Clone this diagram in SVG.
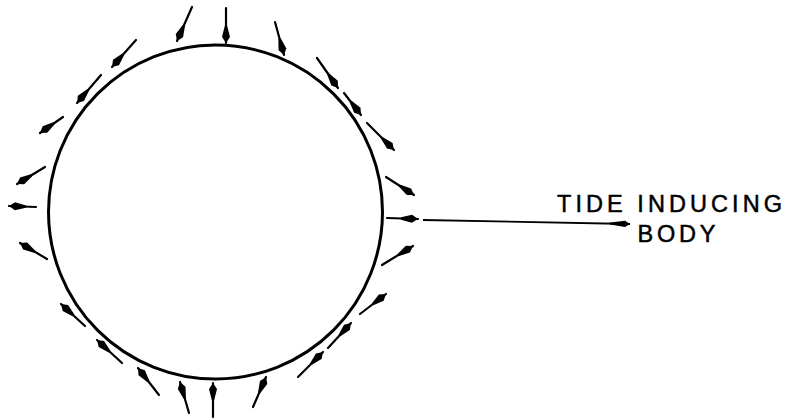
<svg xmlns="http://www.w3.org/2000/svg" width="788" height="420" viewBox="0 0 788 420">
  <style>
    .earth { fill: none; stroke: #000; stroke-width: 3; }
    .f { stroke: #000; stroke-width: 2.2; stroke-linecap: round; fill: none; marker-end: url(#ah); }
    .long { stroke: #000; stroke-width: 1.8; fill: none; marker-end: url(#ahl); }
    .lbl { font-family: "Liberation Sans", Arial, sans-serif; font-size: 23.5px; fill: #000; stroke: #000; stroke-width: 0.5; }
  </style>
  <defs>
    <marker id="ah" markerUnits="userSpaceOnUse" viewBox="-19 -5 20 10" refX="0" refY="0" markerWidth="20" markerHeight="10" orient="auto">
      <path d="M0,0 L-6,-4 L-17,-1.2 L-17,1.2 L-6,4 Z" fill="#000"/>
    </marker>
    <marker id="ahl" markerUnits="userSpaceOnUse" viewBox="-22 -4 23 8" refX="0" refY="0" markerWidth="23" markerHeight="8" orient="auto">
      <path d="M0,0 L-5,-3.2 L-20,-1 L-20,1 L-5,3.2 Z" fill="#000"/>
    </marker>
  </defs>
  <rect width="788" height="420" fill="#fff"/>
  <g id="earth">
    <circle class="earth" cx="215.5" cy="212" r="167"/>
  </g>
  <g id="body-label">
    <text class="lbl" x="557" y="212" textLength="225" lengthAdjust="spacing">TIDE INDUCING</text>
    <text class="lbl" x="637.5" y="242" textLength="78" lengthAdjust="spacing">BODY</text>
  </g>
  <g id="connectors">
    <!-- top -->
    <line class="f" x1="192" y1="7" x2="177" y2="41"/>
    <line class="f" x1="226" y1="8" x2="226" y2="43"/>
    <line class="f" x1="275" y1="22" x2="284" y2="55"/>
    <line class="f" x1="317" y1="58" x2="338" y2="88"/>
    <line class="f" x1="344" y1="93" x2="361" y2="115"/>
    <line class="f" x1="367" y1="123" x2="394" y2="150"/>
    <line class="f" x1="136" y1="40" x2="112" y2="67"/>
    <line class="f" x1="101" y1="75" x2="77" y2="103"/>
    <line class="f" x1="63" y1="117" x2="40" y2="133"/>
    <!-- left -->
    <line class="f" x1="45" y1="167" x2="17" y2="184"/>
    <line class="f" x1="36" y1="207" x2="9" y2="206"/>
    <line class="f" x1="47" y1="259" x2="20" y2="243"/>
    <!-- right -->
    <line class="f" x1="386" y1="177" x2="414" y2="195"/>
    <line class="f" x1="387" y1="218" x2="418" y2="219"/>
    <line class="f" x1="382" y1="265" x2="413" y2="246"/>
    <!-- bottom -->
    <line class="f" x1="85" y1="326" x2="61" y2="304"/>
    <line class="f" x1="122" y1="363" x2="97" y2="340"/>
    <line class="f" x1="159" y1="395" x2="138" y2="368"/>
    <line class="f" x1="189" y1="413" x2="180" y2="382"/>
    <line class="f" x1="213" y1="417" x2="213" y2="383"/>
    <line class="f" x1="253" y1="407" x2="266" y2="377"/>
    <line class="f" x1="298" y1="377" x2="323" y2="352"/>
    <line class="f" x1="328" y1="348" x2="351" y2="323"/>
    <line class="f" x1="360" y1="314" x2="386" y2="294"/>
    <!-- to tide inducing body -->
    <line class="long" x1="423" y1="220" x2="630" y2="224"/>
  </g>
</svg>
